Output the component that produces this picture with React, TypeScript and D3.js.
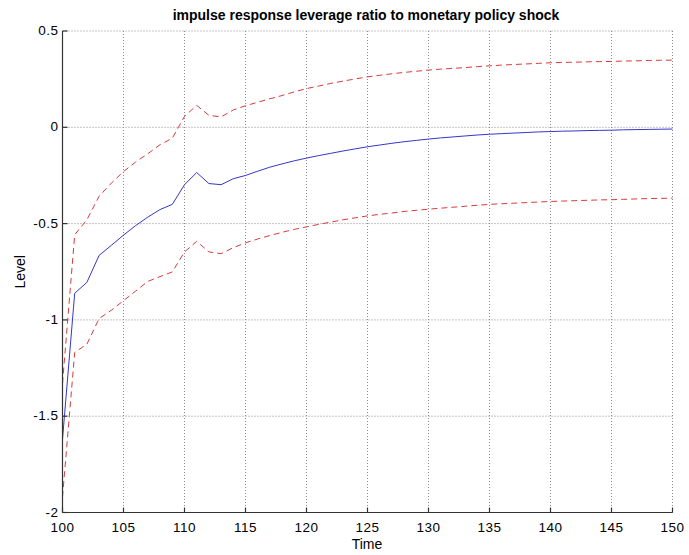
import React from "react";
import * as d3 from "d3";

const periods: number[] = d3.range(100, 151);

const responseMean: number[] = [
  -1.62, -0.862, -0.805, -0.665, -0.613, -0.56, -0.51, -0.466, -0.427, -0.4,
  -0.298, -0.235, -0.292, -0.298, -0.267, -0.25, -0.228, -0.207, -0.19, -0.174,
  -0.16, -0.147, -0.135, -0.123, -0.112, -0.101, -0.092, -0.083, -0.075, -0.068,
  -0.061, -0.055, -0.05, -0.045, -0.04, -0.036, -0.033, -0.03, -0.027, -0.024,
  -0.022, -0.02, -0.019, -0.017, -0.016, -0.015, -0.013, -0.012, -0.011, -0.01,
  -0.009,
];

const responseUpper: number[] = [
  -1.33, -0.558, -0.48, -0.358, -0.29, -0.23, -0.18, -0.137, -0.09, -0.057,
  0.057, 0.114, 0.062, 0.054, 0.09, 0.112, 0.13, 0.148, 0.165, 0.184,
  0.201, 0.214, 0.228, 0.24, 0.251, 0.262, 0.27, 0.278, 0.285, 0.291,
  0.297, 0.302, 0.306, 0.31, 0.315, 0.319, 0.323, 0.326, 0.329, 0.332,
  0.335, 0.337, 0.338, 0.34, 0.341, 0.342, 0.344, 0.345, 0.347, 0.348,
  0.349,
];

const responseLower: number[] = [
  -1.92, -1.169, -1.126, -0.993, -0.95, -0.9, -0.85, -0.8, -0.775, -0.751,
  -0.647, -0.592, -0.647, -0.656, -0.625, -0.6, -0.58, -0.562, -0.545, -0.53,
  -0.517, -0.504, -0.492, -0.48, -0.47, -0.46, -0.452, -0.445, -0.437, -0.431,
  -0.425, -0.42, -0.415, -0.41, -0.405, -0.4, -0.397, -0.394, -0.391, -0.388,
  -0.385, -0.383, -0.381, -0.379, -0.377, -0.376, -0.374, -0.372, -0.37, -0.369,
  -0.368,
];

const xTicks: number[] = [100, 105, 110, 115, 120, 125, 130, 135, 140, 145, 150];
const yTicks: number[] = [-2, -1.5, -1, -0.5, 0, 0.5];

const titleText = "impulse response leverage ratio to monetary policy shock";
const xLabel = "Time";
const yLabel = "Level";

const W = 689;
const H = 555;
const left = 62.5;
const right = 672.5;
const top = 31;
const bottom = 512.5;

export default function App() {
  const x = d3.scaleLinear().domain([100, 150]).range([left, right]);
  const y = d3.scaleLinear().domain([-2, 0.5]).range([bottom, top]);
  const line = d3
    .line<number>()
    .x((_, i) => x(periods[i]))
    .y((d) => y(d));

  const font = "'Liberation Sans', Arial, Helvetica, sans-serif";
  const gridColor = "#8a8a8a";
  const axisColor = "#333";

  return (
    <svg
      width={W}
      height={H}
      style={{ position: "absolute", left: 0, top: 0, background: "#fff" }}
      fontFamily={font}
    >
      <rect x={0} y={0} width={W} height={H} fill="#fff" />
      {/* grid */}
      <g stroke={gridColor} strokeWidth={1} strokeDasharray="1,2">
        {xTicks.map((t) => (
          <line key={"gx" + t} x1={x(t)} x2={x(t)} y1={top} y2={bottom} />
        ))}
        {yTicks.map((t) => (
          <line key={"gy" + t} x1={left} x2={right} y1={y(t)} y2={y(t)} />
        ))}
      </g>
      {/* series */}
      <path
        d={line(responseUpper) || ""}
        fill="none"
        stroke="#d63c3c"
        strokeWidth={1}
        strokeDasharray="6,4"
      />
      <path
        d={line(responseLower) || ""}
        fill="none"
        stroke="#d63c3c"
        strokeWidth={1}
        strokeDasharray="6,4"
      />
      <path
        d={line(responseMean) || ""}
        fill="none"
        stroke="#3636c8"
        strokeWidth={1}
      />
      {/* axes */}
      <g stroke={axisColor} strokeWidth={1.2}>
        <line x1={left} x2={left} y1={top} y2={bottom} />
        <line x1={left} x2={right} y1={bottom} y2={bottom} />
        {xTicks.map((t) => (
          <line key={"tx" + t} x1={x(t)} x2={x(t)} y1={bottom} y2={bottom - 5} />
        ))}
        {yTicks.map((t) => (
          <line key={"ty" + t} x1={left} x2={left + 5} y1={y(t)} y2={y(t)} />
        ))}
      </g>
      {/* tick labels */}
      <g fontSize={13.5} fill="#000" letterSpacing={0.5}>
        {xTicks.map((t) => (
          <text key={"lx" + t} x={x(t)} y={bottom + 19} textAnchor="middle">
            {t}
          </text>
        ))}
        {yTicks.map((t) => (
          <text key={"ly" + t} x={left - 4} y={y(t) + 4} textAnchor="end">
            {t}
          </text>
        ))}
      </g>
      <text x={366} y={20} textAnchor="middle" fontSize={14} fontWeight="bold">
        {titleText}
      </text>
      <text x={367} y={549} textAnchor="middle" fontSize={14}>
        {xLabel}
      </text>
      <text
        transform={`translate(25,${(top + bottom) / 2}) rotate(-90)`}
        textAnchor="middle"
        fontSize={14}
      >
        {yLabel}
      </text>
    </svg>
  );
}
